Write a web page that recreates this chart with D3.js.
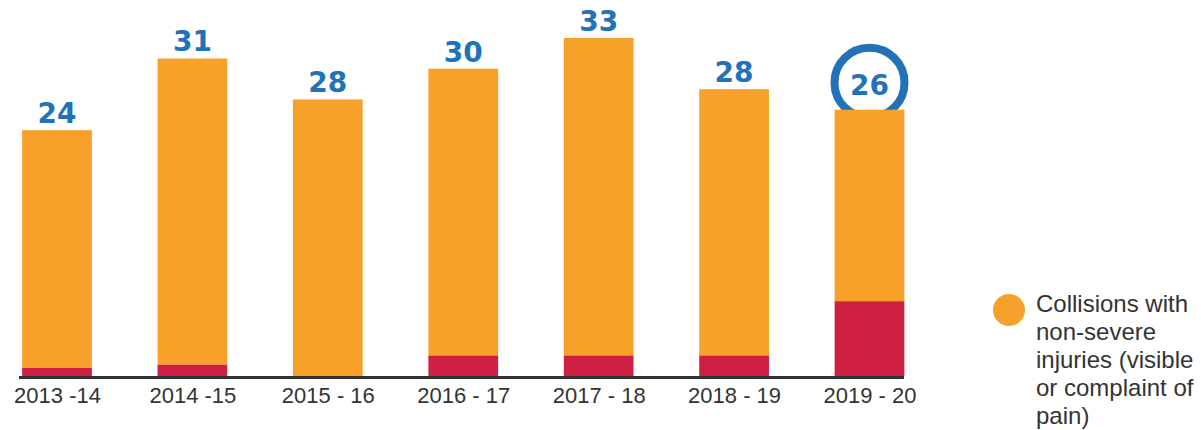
<!DOCTYPE html>
<html lang="en">
<head>
    <meta charset="UTF-8">
    <script src="https://cdnjs.cloudflare.com/ajax/libs/d3/7.8.5/d3.min.js"></script>
    <style>
        body { margin: 0; background: white; }
        text { font-family: "Liberation Sans", Arial, sans-serif; }
        .axis text { font-size: 22px; fill: #333; }
        .value { font-family: "DejaVu Sans", Verdana, sans-serif; font-size: 28px; font-weight: bold; fill: #2272b9; text-anchor: middle; }
        .legend text { font-size: 24px; fill: #333; }
    </style>
</head>
<body>
<svg id="chart" width="1201" height="430"></svg>
<script>
    const years = ["2013 -14", "2014 -15", "2015 - 16", "2016 - 17", "2017 - 18", "2018 - 19", "2019 - 20"];
    const totals = [24, 31, 27, 30, 33, 28, 26];       // bar heights
    const severe = [0.8, 1.1, 0, 2, 2, 2, 7.3];         // red bottom segment
    const labels = ["24", "31", "28", "30", "33", "28", "26"];
    const legendLines = ["Collisions with", "non-severe", "injuries (visible", "or complaint of", "pain)"];

    const orange = "#f7a02a", red = "#cd2042", blue = "#2272b9";

    const svg = d3.select("#chart");

    const x = d3.scalePoint().domain(years).range([57, 869.5]);
    const barW = x.step() * 0.515;
    const y = d3.scaleLinear().domain([0, 33]).range([376, 38]);

    // highlight ring behind the last bar
    const last = years[years.length - 1];
    svg.append("circle")
        .attr("cx", x(last))
        .attr("cy", y(totals[totals.length - 1]) - 27)
        .attr("r", 35)
        .attr("fill", "white")
        .attr("stroke", blue)
        .attr("stroke-width", 8);

    const g = svg.selectAll("g.bar")
        .data(years)
        .enter()
        .append("g")
        .attr("class", "bar");

    g.append("rect")
        .attr("x", d => x(d) - barW / 2)
        .attr("width", barW)
        .attr("y", (d, i) => y(totals[i]))
        .attr("height", (d, i) => y(severe[i]) - y(totals[i]))
        .attr("fill", orange);

    g.append("rect")
        .attr("x", d => x(d) - barW / 2)
        .attr("width", barW)
        .attr("y", (d, i) => y(severe[i]))
        .attr("height", (d, i) => y(0) - y(severe[i]))
        .attr("fill", red);

    g.append("text")
        .attr("class", "value")
        .attr("x", d => x(d))
        .attr("y", (d, i) => i === years.length - 1 ? y(totals[i]) - 15 : y(totals[i]) - 7)
        .text((d, i) => labels[i]);

    // x axis
    const axis = svg.append("g")
        .attr("class", "axis")
        .attr("transform", `translate(0, ${y(0)})`)
        .call(d3.axisBottom(x).tickSize(0).tickPadding(11));
    axis.select(".domain").remove();
    axis.selectAll("text").attr("font-family", null).attr("font-size", null).attr("fill", null);

    svg.append("line")
        .attr("x1", 19).attr("x2", 904)
        .attr("y1", y(0) + 1.5).attr("y2", y(0) + 1.5)
        .attr("stroke", "#333")
        .attr("stroke-width", 3);

    // legend
    const legend = svg.append("g").attr("class", "legend");
    legend.append("circle")
        .attr("cx", 1009).attr("cy", 310).attr("r", 16)
        .attr("fill", orange);
    legend.append("text")
        .attr("x", 1036)
        .attr("y", 312)
        .selectAll("tspan")
        .data(legendLines)
        .enter()
        .append("tspan")
        .attr("x", 1036)
        .attr("dy", (d, i) => i === 0 ? 0 : 28)
        .text(d => d);
</script>
</body>
</html>
